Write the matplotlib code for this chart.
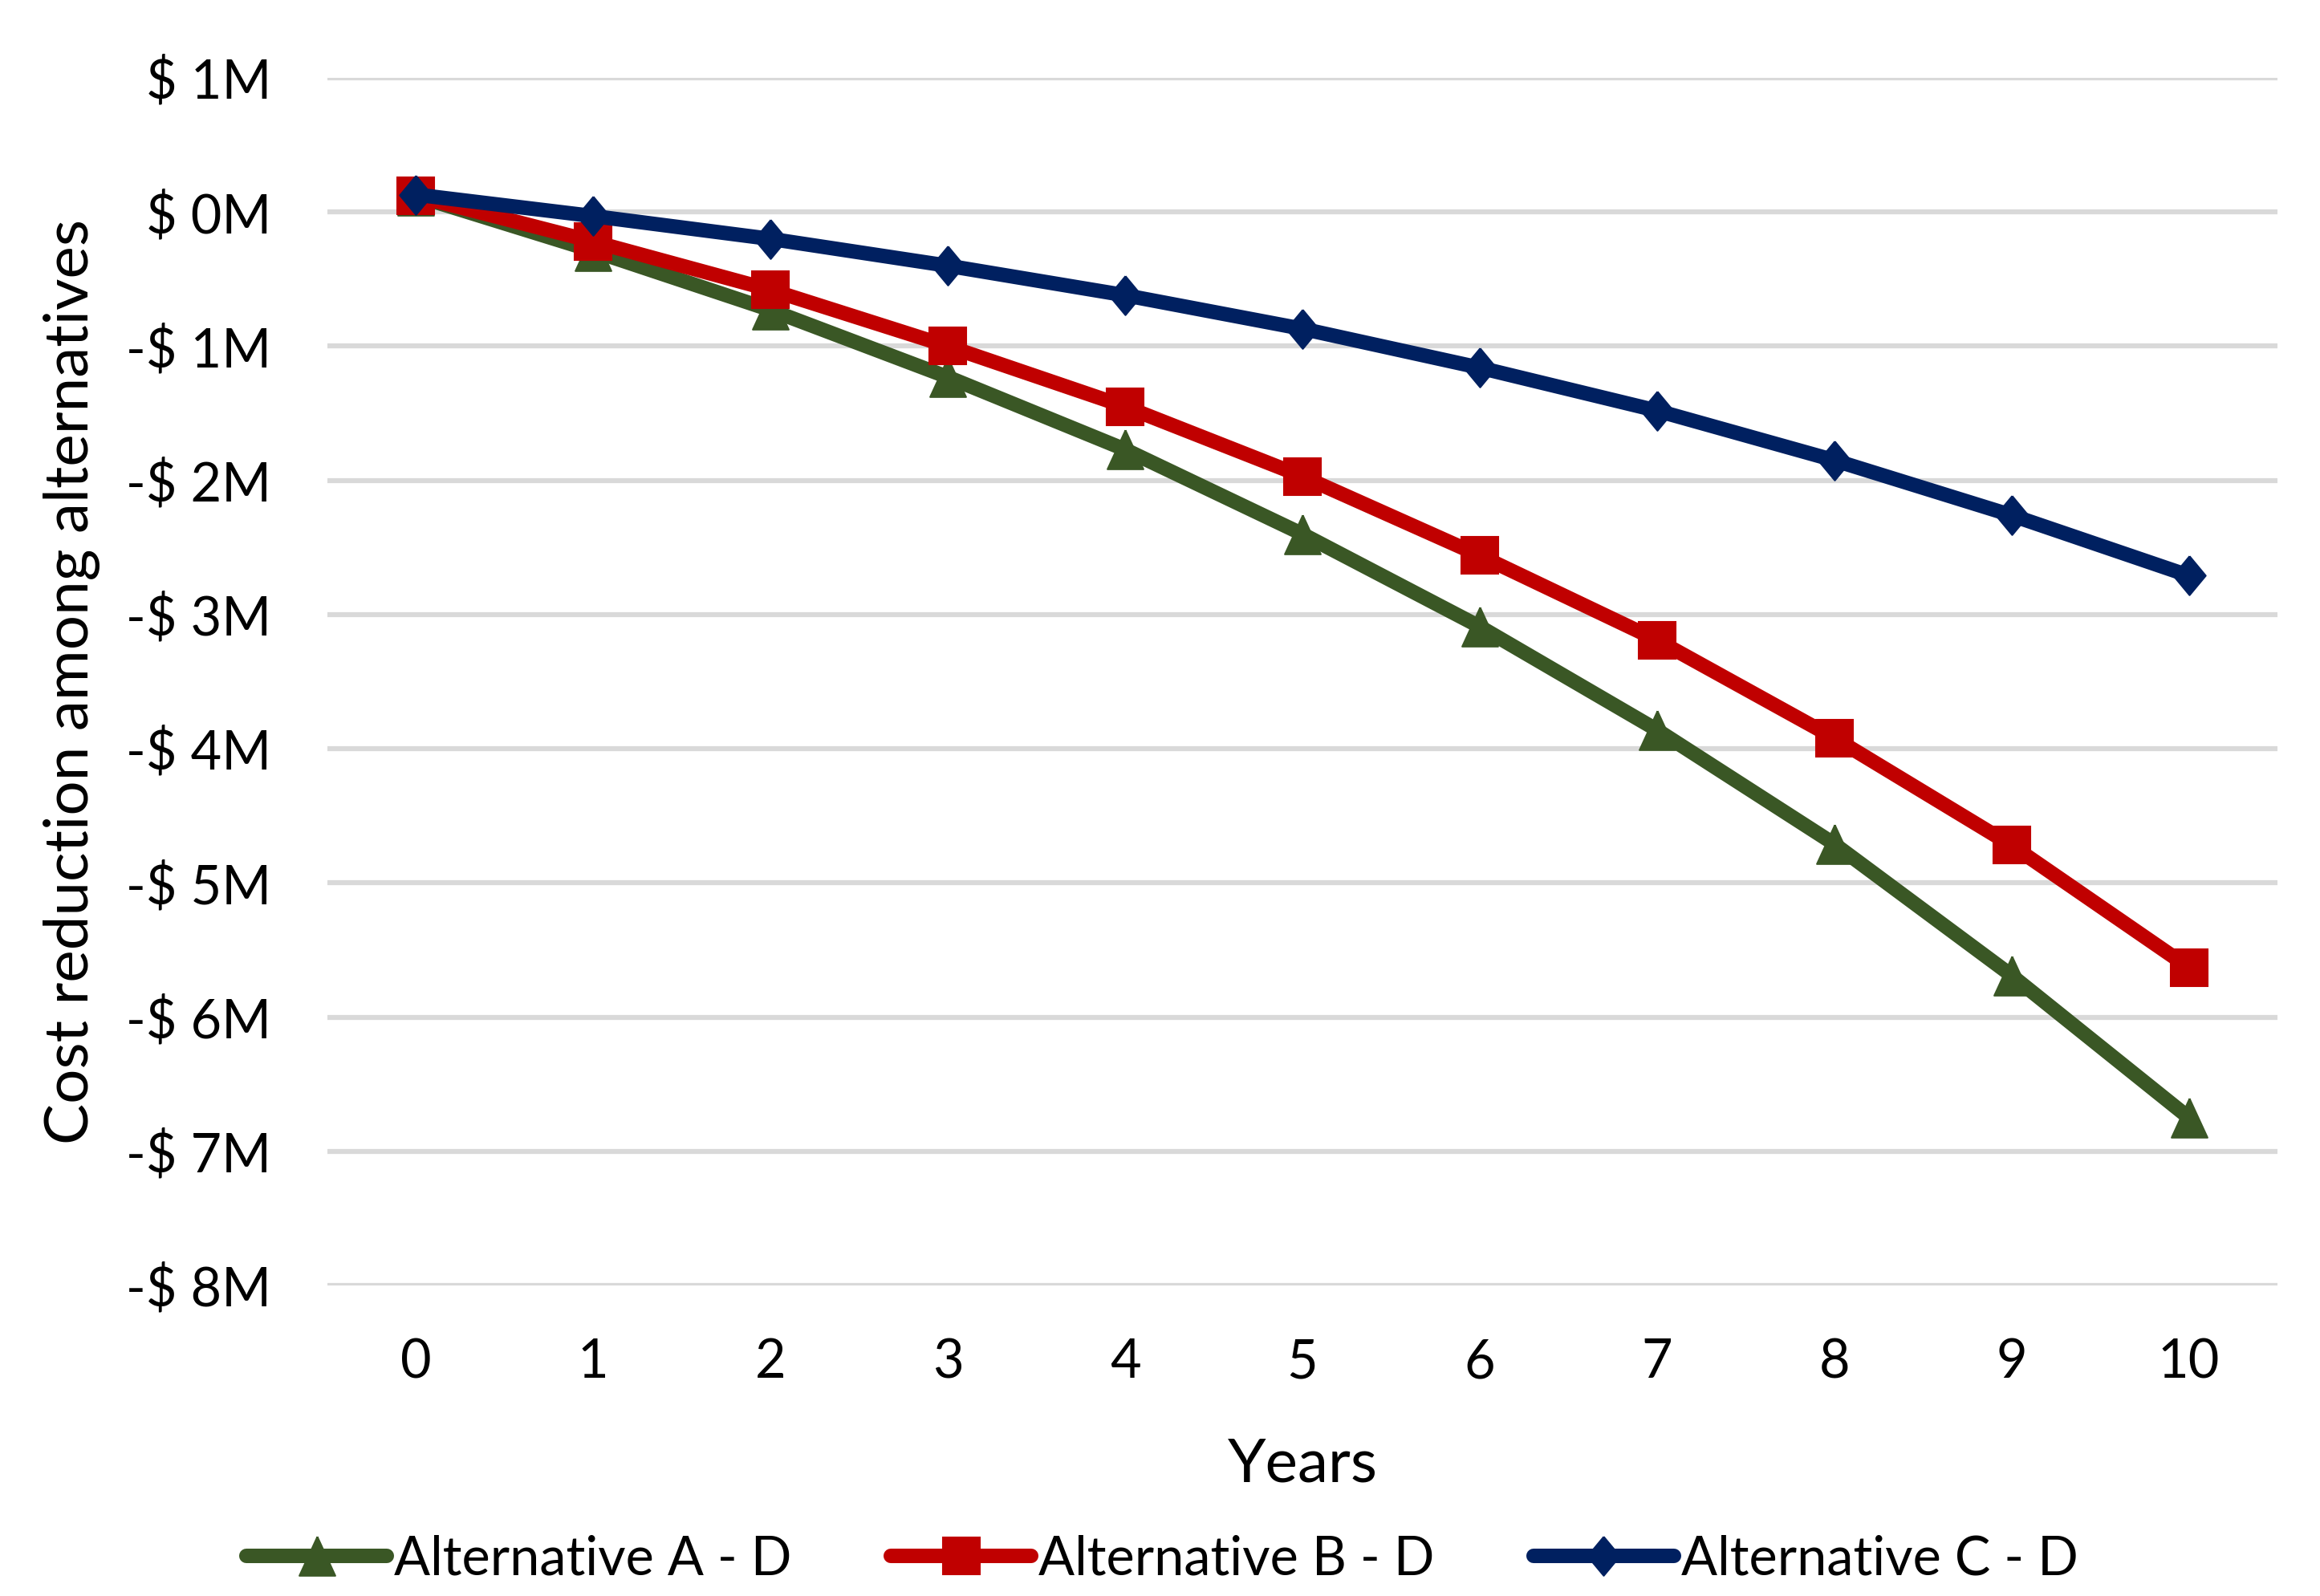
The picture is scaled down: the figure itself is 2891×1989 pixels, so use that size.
import matplotlib
matplotlib.use("Agg")
import matplotlib.pyplot as plt
from matplotlib.ticker import FixedLocator, FuncFormatter

plt.rcParams['font.family'] = ['Lato', 'DejaVu Sans']

years = list(range(11))
alt_a = [0.12, -0.29, -0.73, -1.23, -1.77, -2.40, -3.09, -3.86, -4.71, -5.69, -6.75]
alt_b = [0.12, -0.22, -0.58, -1.00, -1.45, -1.97, -2.56, -3.19, -3.92, -4.72, -5.63]
alt_c = [0.13, -0.03, -0.20, -0.40, -0.62, -0.87, -1.16, -1.48, -1.85, -2.26, -2.71]
labels = ["Alternative A - D", "Alternative B - D", "Alternative C - D"]
y_ticks = [1, 0, -1, -2, -3, -4, -5, -6, -7, -8]

fig = plt.figure(figsize=(28.91, 19.89), dpi=100)
ax = fig.add_axes([0.1411, 0.1946, 0.9817 - 0.1411, 0.9512 - 0.1946])

diamond = [(0, 1), (0.83, 0), (0, -1), (-0.83, 0), (0, 1)]
triangle = [(0, 1), (0.92, -1), (-0.92, -1), (0, 1)]
lw = 13
common = dict(lw=lw, solid_joinstyle='round', solid_capstyle='round', mew=1.5)
ax.plot(years, alt_a, color='#3A5725', marker=triangle, ms=35, label=labels[0], zorder=3, **common)
ax.plot(years, alt_b, color='#C00000', marker='s', ms=33, label=labels[1], zorder=4, **common)
ax.plot(years, alt_c, color='#002060', marker=diamond, ms=35, label=labels[2], zorder=5, **common)

ax.set_xlim(-0.5, 10.5)
ax.set_ylim(-8, 1)
ax.xaxis.set_major_locator(FixedLocator(years))
ax.yaxis.set_major_locator(FixedLocator(y_ticks))

def fmt(v, pos):
    v = int(round(v))
    return f"$ {v}M" if v >= 0 else f"-$ {abs(v)}M"
ax.yaxis.set_major_formatter(FuncFormatter(fmt))

ax.grid(axis='y', color='#D9D9D9', lw=4.5, zorder=0)
ax.set_axisbelow(True)
for s in ax.spines.values():
    s.set_visible(False)
ax.tick_params(axis='both', length=0, labelsize=48, colors='black')
ax.tick_params(axis='x', pad=47)
ax.tick_params(axis='y', pad=50)

ax.set_xlabel("Years", fontsize=55, va='center')
ax.xaxis.set_label_coords(0.5, -0.148)
ax.set_ylabel("Cost reduction among alternatives", fontsize=55, va='center')
ax.yaxis.set_label_coords(-0.131, 0.5)

leg = fig.legend(loc='center', bbox_to_anchor=(0.501, 0.023), ncol=3, frameon=False,
                 fontsize=48, handlelength=2.63, handletextpad=0.13, columnspacing=1.85,
                 numpoints=1)

fig.savefig("out.png", dpi=100)
